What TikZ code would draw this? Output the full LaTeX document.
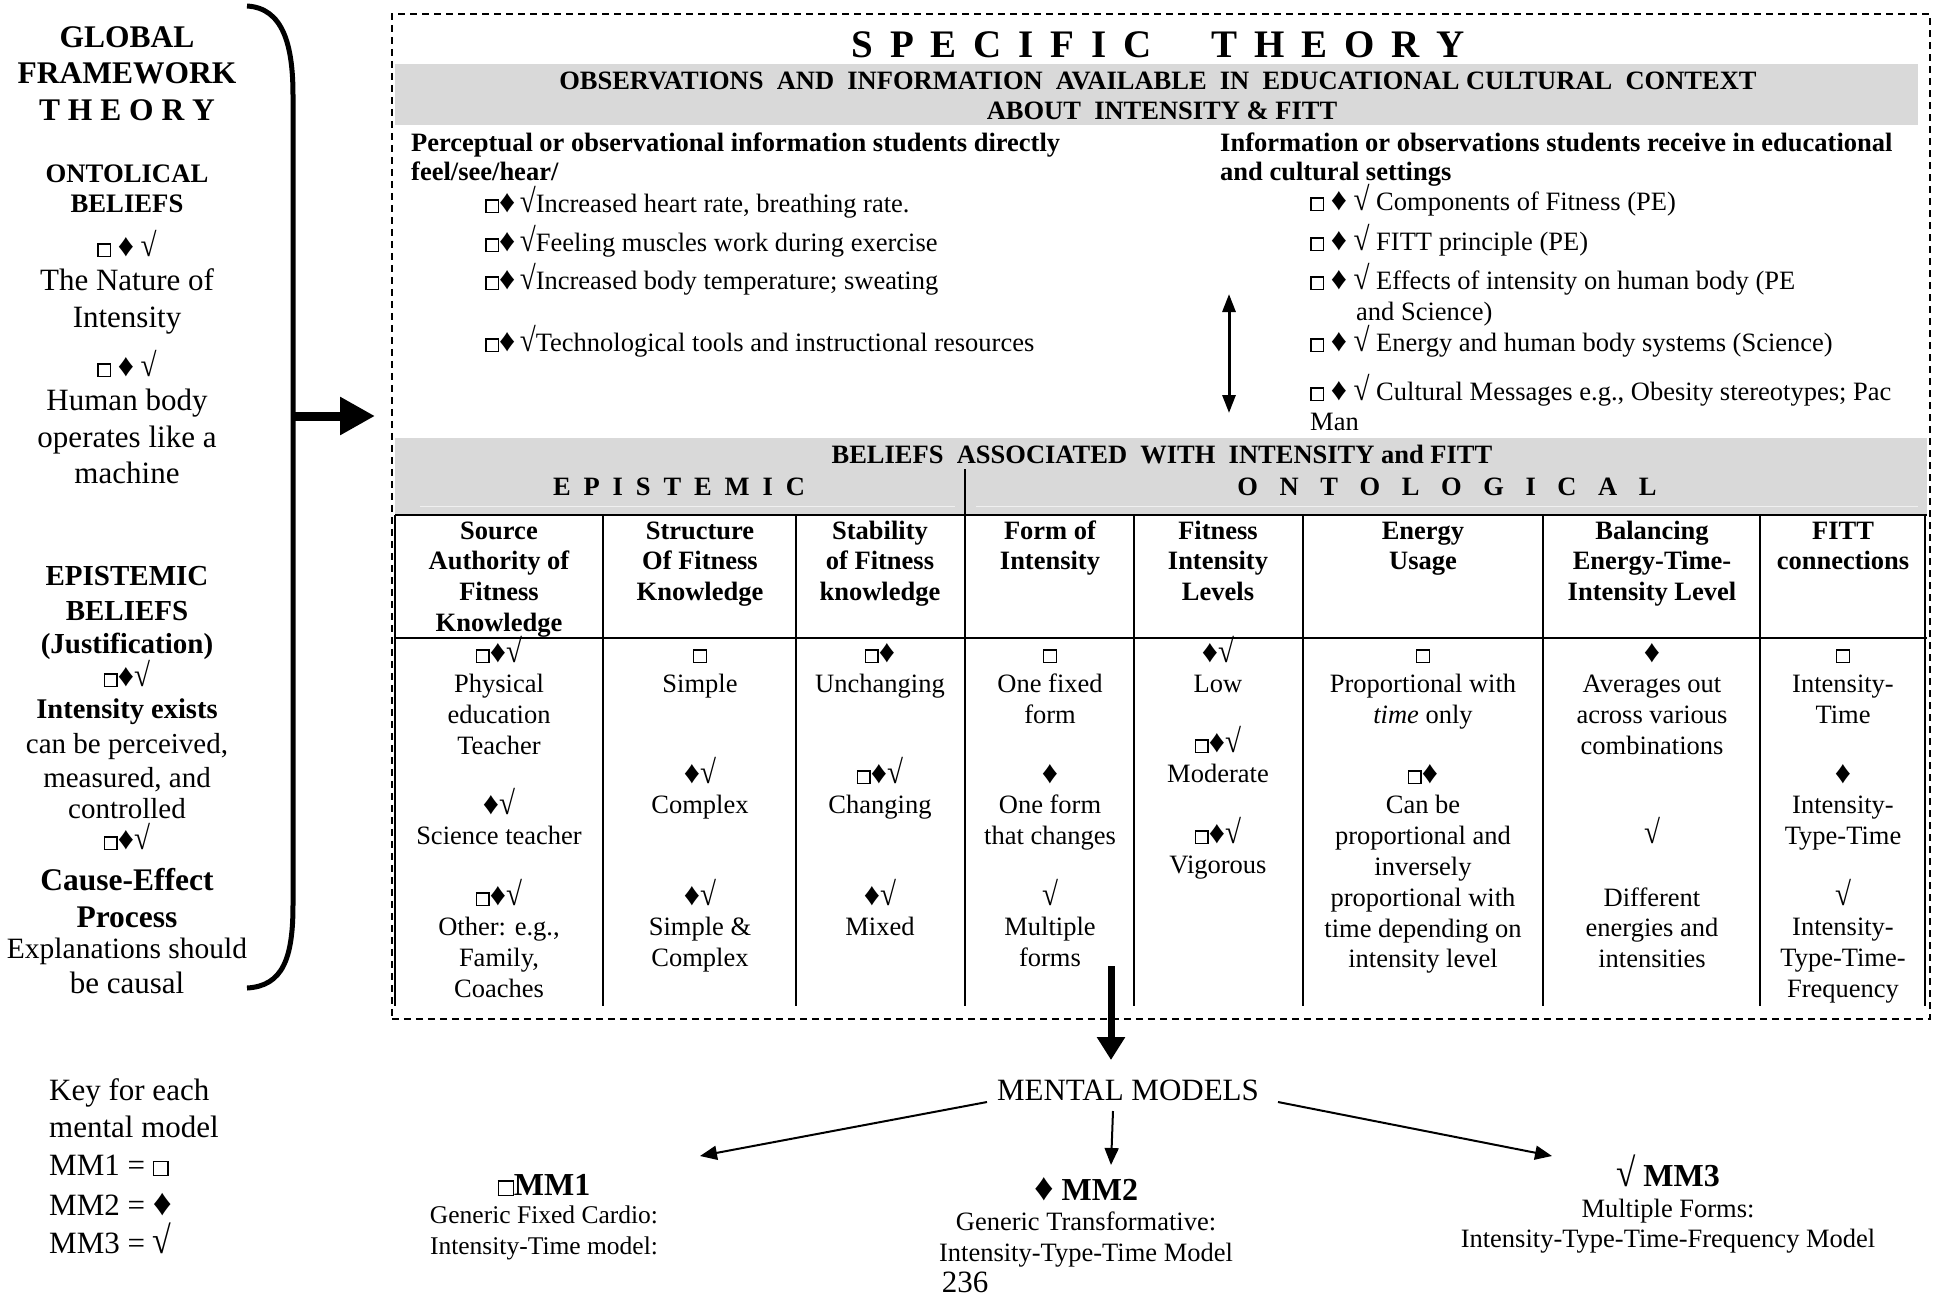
\documentclass[tikz,border=0pt]{standalone}
\usepackage{fontspec}
\usepackage{graphicx}
\setmainfont{Liberation Serif}
\usetikzlibrary{arrows.meta}
\newcommand\ga{\hspace{16.8pt}}
\newcommand\gb{\hspace{12.9pt}}
\newcommand\gc{\hspace{21.6pt}}
\newcommand\sq{{\fboxsep=0pt\fboxrule=1.4pt\fbox{\rule{0pt}{0.42em}\rule{0.42em}{0pt}}}}
\newcommand\dm{\scalebox{1.2}{♦}}
\newcommand\ck{\scalebox{1.1}[1.25]{√}}
\newcommand\blk[5]{%
  \foreach \myl [count=\myi from 0] in {#5}{%
    \node[#2] (#1-\myi) at (#3,{#4+\myi*30.8}) {\myl};}}
\begin{document}
\begin{tikzpicture}[x=1pt,y=-1pt,
  txt/.style={inner sep=0pt, anchor=base, font=\fontsize{26.5}{30}\selectfont},
  txtb/.style={inner sep=0pt, anchor=base, font=\fontsize{26.5}{30}\selectfont\bfseries},
  big/.style={inner sep=0pt, anchor=base, font=\fontsize{31}{36}\selectfont},
  bigb/.style={inner sep=0pt, anchor=base, font=\fontsize{31.5}{36}\selectfont\bfseries},
  band/.style={fill=black!15, draw=none},
  tline/.style={line width=2.4pt},
  dashedbox/.style={draw, line width=1.5pt, dash pattern=on 7pt off 5pt},
  thinarr/.style={line width=2pt, -{Triangle[length=17pt,width=14pt]}},
]
\useasboundingbox (0,0) rectangle (1935,1296);

% ---------- left column ----------
\node[bigb] (gft1) at (127,47) {GLOBAL};
\node[bigb] (gft2) at (127,83) {FRAMEWORK};
\node[bigb] (gft3) at (127,120) {T H E O R Y};
\node[inner sep=0pt, anchor=base, font=\fontsize{26.7}{30}\selectfont\bfseries] (ob1) at (127,182) {ONTOLICAL};
\node[inner sep=0pt, anchor=base, font=\fontsize{26.7}{30}\selectfont\bfseries] (ob2) at (127,212) {BELIEFS};
\node[txt] (os1) at (127,256) {\sq{} \dm{} \ck};
\node[big] (on1) at (127,290) {The Nature of};
\node[big] (on2) at (127,327) {Intensity};
\node[txt] (os2) at (127,376) {\sq{} \dm{} \ck};
\node[big] (oh1) at (127,410) {Human body};
\node[big] (oh2) at (127,447) {operates like a};
\node[big] (oh3) at (127,483) {machine};
\node[inner sep=0pt, anchor=base, font=\fontsize{29}{33}\selectfont\bfseries] (eb1) at (127,585) {EPISTEMIC};
\node[inner sep=0pt, anchor=base, font=\fontsize{29}{33}\selectfont\bfseries] (eb2) at (127,620) {BELIEFS};
\node[inner sep=0pt, anchor=base, font=\fontsize{29}{33}\selectfont\bfseries] (eb3) at (127,653) {(Justification)};
\node[txtb] (es1) at (127,686) {\sq\dm\ck};
\node[inner sep=0pt, anchor=base, font=\fontsize{28.5}{33}\selectfont\bfseries] (ei1) at (127,718) {Intensity exists};
\node[inner sep=0pt, anchor=base, font=\fontsize{29}{33}\selectfont] (ei2) at (127,753) {can be perceived,};
\node[inner sep=0pt, anchor=base, font=\fontsize{29}{33}\selectfont] (ei3) at (127,787) {measured, and};
\node[inner sep=0pt, anchor=base, font=\fontsize{29}{33}\selectfont] (ei4) at (127,818) {controlled};
\node[txtb] (es2) at (127,849) {\sq\dm\ck};
\node[bigb] (ec1) at (127,890) {Cause-Effect};
\node[bigb] (ec2) at (127,927) {Process};
\node[inner sep=0pt, anchor=base, font=\fontsize{29.5}{34}\selectfont] (ec3) at (127,958) {Explanations should};
\node[big] (ec4) at (127,993) {be causal};

% brace and arrow
\draw[line width=5pt] (247,6) .. controls (283,8) and (293,45) .. (293,95)
  -- (293,905) .. controls (293,958) and (283,986) .. (247,988);
\coordinate (bm) at (291,416);
\coordinate (bt) at (375,416);
\draw[line width=9pt, -{Triangle[length=35pt,width=36pt]}] (bm) -- (bt);

% ---------- specific theory box ----------
\node[dashedbox, anchor=north west, minimum width=1538pt, minimum height=1005pt, inner sep=0pt] (spec) at (391,13) {};
\fill[band] (395,64) rectangle (1918,125);
\fill[band] (395,438) rectangle (1927,515);
\draw[black!6, line width=1pt] (420,506) -- (955,506) (976,506) -- (1918,506);

\node[inner sep=0pt, anchor=base, font=\fontsize{39}{44}\selectfont\bfseries] (spt) at (1158,57)
  {S\ga P\ga E\ga C\ga I\ga F\ga I\ga C\hspace{60pt}T\ga H\ga E\ga O\ga R\ga Y};
\node[txtb] (obs1) at (1158,89) {OBSERVATIONS\ \ AND\ \ INFORMATION\ \ AVAILABLE\ \ IN\ \ EDUCATIONAL CULTURAL\ \ CONTEXT};
\node[txtb] (obs2) at (1162,119) {ABOUT\ \ INTENSITY \& FITT};

\node[txtb, anchor=base west] (pl1) at (411,151) {Perceptual or observational information students directly};
\node[txtb, anchor=base west] (pl2) at (411,180) {feel/see/hear/};
\node[txt, anchor=base west] (li1) at (485,212) {\sq\dm\,\ck{}Increased heart rate, breathing rate.};
\node[txt, anchor=base west] (li2) at (485,251) {\sq\dm\,\ck{}Feeling muscles work during exercise};
\node[txt, anchor=base west] (li3) at (485,289) {\sq\dm\,\ck{}Increased body temperature; sweating};
\node[txt, anchor=base west] (li4) at (485,351) {\sq\dm\,\ck{}Technological tools and instructional resources};

\node[txtb, anchor=base west] (pr1) at (1220,151) {Information or observations students receive in educational};
\node[txtb, anchor=base west] (pr2) at (1220,180) {and cultural settings};
\node[txt, anchor=base west] (ri1) at (1310,210) {\sq{} \dm{} \ck{} Components of Fitness (PE)};
\node[txt, anchor=base west] (ri2) at (1310,250) {\sq{} \dm{} \ck{} FITT principle (PE)};
\node[txt, anchor=base west] (ri3) at (1310,289) {\sq{} \dm{} \ck{} Effects of intensity on human body (PE};
\node[txt, anchor=base west] (ri3b) at (1356,320) {and Science)};
\node[txt, anchor=base west] (ri4) at (1310,351) {\sq{} \dm{} \ck{} Energy and human body systems (Science)};
\node[txt, anchor=base west] (ri5) at (1310,400) {\sq{} \dm{} \ck{} Cultural Messages e.g., Obesity stereotypes; Pac};
\node[txt, anchor=base west] (ri5b) at (1310,430) {Man};

\coordinate (dat) at (1229,294);
\coordinate (dab) at (1229,413);
\draw[line width=3pt, {Triangle[length=18pt,width=13pt]}-{Triangle[length=18pt,width=13pt]}] (dat) -- (dab);

\node[txtb] (bel) at (1162,463) {BELIEFS\ \ ASSOCIATED\ \ WITH\ \ INTENSITY and FITT};
\node[txtb] (epi) at (679,495) {E\gb P\gb I\gb S\gb T\gb E\gb M\gb I\gb C};
\node[txtb] (ont) at (1447,495) {O\gc N\gc T\gc O\gc L\gc O\gc G\gc I\gc C\gc A\gc L};

% table lines
\draw[tline] (395,515) -- (1927,515);
\draw[tline] (395,638) -- (1927,638);
\draw[tline] (965,469) -- (965,1006);
\foreach \xx in {395,603,796,1134,1303,1543,1760,1925}
  \draw[tline] (\xx,515) -- (\xx,1006);

% headers
\blk{h1}{txtb}{499}{539}{Source,Authority of,Fitness,Knowledge}
\blk{h2}{txtb}{700}{539}{Structure,Of Fitness,Knowledge}
\blk{h3}{txtb}{880}{539}{Stability,of Fitness,knowledge}
\blk{h4}{txtb}{1050}{539}{Form of,Intensity}
\blk{h5}{txtb}{1218}{539}{Fitness,Intensity,Levels}
\blk{h6}{txtb}{1423}{539}{Energy,Usage}
\blk{h7}{txtb}{1652}{539}{Balancing,Energy-Time-,Intensity Level}
\blk{h8}{txtb}{1843}{539}{FITT,connections}

% body
\blk{a1}{txt}{499}{662}{\sq\dm\ck,Physical,education,Teacher}
\blk{b1}{txt}{499}{814}{\dm\ck,Science teacher}
\blk{c1}{txt}{499}{905}{\sq\dm\ck,{Other: e.g.,},{Family,},Coaches}
\blk{a2}{txt}{700}{662}{\sq,Simple}
\blk{b2}{txt}{700}{783}{\dm\ck,Complex}
\blk{c2}{txt}{700}{905}{\dm\ck,Simple \&,Complex}
\blk{a3}{txt}{880}{662}{\sq\dm,Unchanging}
\blk{b3}{txt}{880}{783}{\sq\dm\ck,Changing}
\blk{c3}{txt}{880}{905}{\dm\ck,Mixed}
\blk{a4}{txt}{1050}{662}{\sq,One fixed,form}
\blk{b4}{txt}{1050}{783}{\dm,One form,that changes}
\blk{c4}{txt}{1050}{905}{\ck,Multiple,forms}
\blk{a5}{txt}{1218}{662}{\dm\ck,Low}
\blk{b5}{txt}{1218}{752}{\sq\dm\ck,Moderate}
\blk{c5}{txt}{1218}{843}{\sq\dm\ck,Vigorous}
\blk{a6}{txt}{1423}{662}{\sq,Proportional with,\textit{time} only}
\blk{b6}{txt}{1423}{783}{\sq\dm,Can be,proportional and,inversely,proportional with,time depending on,intensity level}
\blk{a7}{txt}{1652}{662}{\dm,Averages out,across various,combinations}
\blk{b7}{txt}{1652}{843}{\ck}
\blk{c7}{txt}{1652}{906}{Different,energies and,intensities}
\blk{a8}{txt}{1843}{662}{\sq,Intensity-,Time}
\blk{b8}{txt}{1843}{783}{\dm,Intensity-,Type-Time}
\blk{c8}{txt}{1843}{905}{\ck,Intensity-,Type-Time-,Frequency}

% ---------- mental models ----------
\coordinate (dt) at (1111,966);
\coordinate (db) at (1111,1060);
\draw[line width=7pt, -{Triangle[length=23pt,width=27pt]}] (dt) -- (db);

\node[big] (mm) at (1128,1100) {MENTAL MODELS};
\coordinate (l1) at (987,1102);  \coordinate (l2) at (700,1156);
\coordinate (m1) at (1113,1111); \coordinate (m2) at (1111,1165);
\coordinate (r1) at (1278,1102); \coordinate (r2) at (1552,1156);
\draw[thinarr] (l1) -- (l2);
\draw[thinarr] (m1) -- (m2);
\draw[thinarr] (r1) -- (r2);

\node[inner sep=0pt, anchor=base, font=\fontsize{32}{36}\selectfont\bfseries] (mm1) at (544,1195) {{\fboxrule=1.2pt\sq}MM1};
\node[txt, font=\fontsize{25.5}{30}\selectfont] (mm1a) at (544,1223) {Generic Fixed Cardio:};
\node[txt, font=\fontsize{25.5}{30}\selectfont] (mm1b) at (544,1254) {Intensity-Time model:};
\node[inner sep=0pt, anchor=base, font=\fontsize{32}{36}\selectfont\bfseries] (mm2) at (1086,1200) {\dm{} MM2};
\node[txt] (mm2a) at (1086,1230) {Generic Transformative:};
\node[txt] (mm2b) at (1086,1261) {Intensity-Type-Time Model};
\node[big] (pg) at (965,1292) {236};
\node[inner sep=0pt, anchor=base, font=\fontsize{32}{36}\selectfont\bfseries] (mm3) at (1668,1186) {\ck{} MM3};
\node[txt] (mm3a) at (1668,1217) {Multiple Forms:};
\node[txt] (mm3b) at (1668,1247) {Intensity-Type-Time-Frequency Model};

\node[big, anchor=base west] (k1) at (49,1100) {Key for each};
\node[big, anchor=base west] (k2) at (49,1137) {mental model};
\node[big, anchor=base west] (k3) at (49,1175) {MM1 = \sq};
\node[big, anchor=base west] (k4) at (49,1215) {MM2 = \dm};
\node[big, anchor=base west] (k5) at (49,1253) {MM3 = \ck};
\end{tikzpicture}
\end{document}
